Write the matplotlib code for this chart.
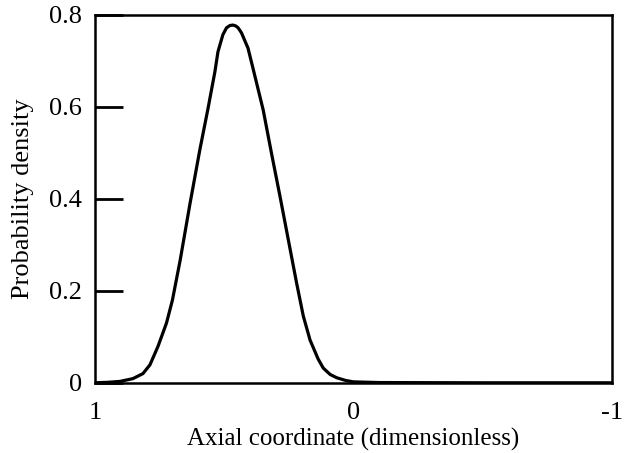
import matplotlib.pyplot as plt

plt.rcParams['font.family'] = ['Liberation Serif', 'DejaVu Serif']

# axial position (1 -> -1) and probability density
axial = [1.0, 0.95, 0.903, 0.853, 0.814, 0.787, 0.756, 0.723, 0.70, 0.67,
         0.632, 0.594, 0.563, 0.536, 0.524, 0.505, 0.491, 0.478, 0.466, 0.455,
         0.446, 0.433, 0.408, 0.389, 0.349, 0.317, 0.284, 0.252, 0.22, 0.194,
         0.168, 0.137, 0.117, 0.09, 0.065, 0.03, 0.0, -0.1, -0.5, -1.0]
density = [0.0, 0.001, 0.003, 0.009, 0.02, 0.039, 0.079, 0.130, 0.180, 0.267,
           0.39, 0.507, 0.595, 0.676, 0.72, 0.757, 0.772, 0.777, 0.778, 0.776,
           0.772, 0.761, 0.728, 0.685, 0.593, 0.499, 0.405, 0.311, 0.217, 0.145,
           0.093, 0.052, 0.032, 0.018, 0.011, 0.005, 0.002, 0.0005, 0.0, 0.0]

fig = plt.figure(figsize=(6.24, 4.53), dpi=100)
ax = fig.add_axes([0.152, 0.155, 0.829, 0.812])

ax.plot(axial, density, color='black', lw=2.3,
        solid_joinstyle='round', solid_capstyle='round')

ax.set_xlim(1, -1)
ax.set_ylim(0, 0.8)
ax.set_xticks([1, 0, -1])
ax.set_xticklabels(['1', '0', '-1'])
ax.set_yticks([0, 0.2, 0.4, 0.6, 0.8])
ax.set_yticklabels(['0', '0.2', '0.4', '0.6', '0.8'])
ax.tick_params(axis='y', direction='in', length=20, width=2, labelsize=19, pad=9)
ax.tick_params(axis='x', length=0, labelsize=19, pad=14)
for s in ax.spines.values():
    s.set_linewidth(1.8)

ax.set_xlabel('Axial coordinate (dimensionless)', fontsize=18, labelpad=3)
ax.set_ylabel('Probability density', fontsize=19, labelpad=11)

fig.savefig('out.png', dpi=100)
